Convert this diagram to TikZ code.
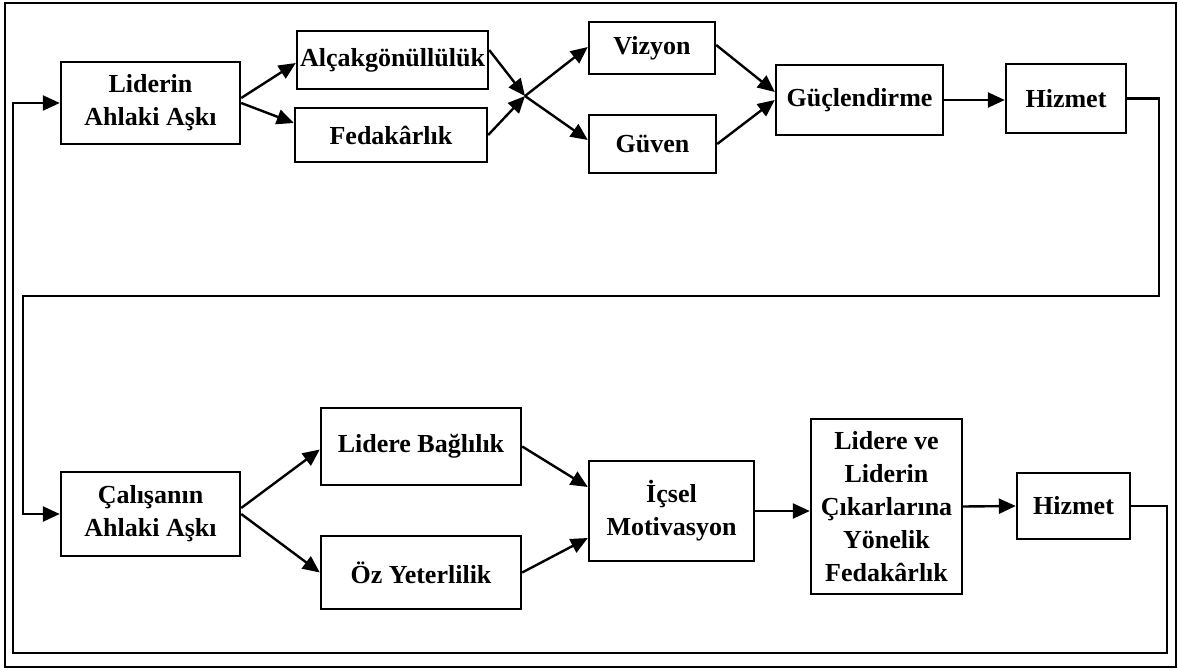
\documentclass[tikz,border=0pt]{standalone}
\usepackage{fontspec}
\setmainfont{Liberation Serif}
\usetikzlibrary{arrows.meta}
\begin{document}
\begin{tikzpicture}[x=1pt,y=-1pt,
  box/.style={draw,line width=2.4pt,inner sep=0pt,align=center,font=\fontsize{26}{33}\selectfont\bfseries},
  conn/.style={line width=2.4pt},
  arr/.style={line width=2.4pt,-{Triangle[length=17pt 0 0,width=15pt 0 0]}}]
\useasboundingbox (0,0) rectangle (1178,669);
\draw[line width=1.8pt] (5,3) rectangle (1176,667);
% top row
\node[box,minimum width=179pt,minimum height=82pt] (L1) at (150.5,103) {Liderin\\Ahlaki Aşkı};
\node[box,minimum width=191pt,minimum height=58pt] (A) at (392.5,60) {Alçakgönüllülük};
\node[box,minimum width=192pt,minimum height=54pt] (F) at (391,135) {Fedakârlık};
\node[box,minimum width=126pt,minimum height=52pt] (V) at (652,48) {Vizyon};
\node[box,minimum width=127pt,minimum height=58pt] (G) at (652.5,144) {Güven};
\node[box,minimum width=167pt,minimum height=70pt] (P) at (859.5,100) {Güçlendirme};
\node[box,minimum width=120pt,minimum height=69pt] (H1) at (1066,98.5) {Hizmet};
% bottom row
\node[box,minimum width=179pt,minimum height=84pt] (C) at (150.5,514) {Çalışanın\\Ahlaki Aşkı};
\node[box,minimum width=200pt,minimum height=77pt] (B) at (421,446.5) {Lidere Bağlılık};
\node[box,minimum width=200pt,minimum height=73pt] (O) at (421,572.5) {Öz Yeterlilik};
\node[box,minimum width=165pt,minimum height=100pt] (M) at (671.5,511) {İçsel\\Motivasyon};
\node[box,minimum width=151pt,minimum height=175pt] (S) at (886.5,506.5) {Lidere ve\\Liderin\\Çıkarlarına\\Yönelik\\Fedakârlık};
\node[box,minimum width=113pt,minimum height=66pt] (H2) at (1073.5,506) {Hizmet};
% junction and loop corners
\coordinate (J) at (525,96);
\coordinate (TR) at (1159,296);
\coordinate (TL) at (23,296);
\coordinate (BR) at (1167,653);
\coordinate (BL) at (13,653);
% top connectors
\draw[arr] ([yshift=5pt]L1.east) -- ([yshift=-3pt]A.west);
\draw[arr] (L1.east) -- ([yshift=12pt]F.west);
\draw[arr] ([yshift=10pt]A.east) -- (J);
\draw[arr] (F.east) -- (J);
\draw[arr] (J) -- ([yshift=1pt]V.west);
\draw[arr] (J) -- ([yshift=4pt]G.west);
\draw[arr] ([yshift=3pt]V.east) -- ([yshift=8pt]P.west);
\draw[arr] (G.east) -- (P.west);
\draw[arr] (P.east) -- (P.east -| H1.west);
% bottom connectors
\draw[arr] ([yshift=6pt]C.east) -- ([yshift=-3pt]B.west);
\draw[arr] (C.east) -- (O.west);
\draw[arr] (B.east) -- ([yshift=24pt]M.west);
\draw[arr] (O.east) -- ([yshift=-27pt]M.west);
\draw[arr] (M.east) -- (M.east -| S.west);
\draw[arr] (S.east) -- (H2.west);
% feedback loops
\draw[arr] (H1.east) -| (TR) -- (TL) |- (C.west);
\draw[arr] (H2.east) -| (BR) -- (BL) |- (L1.west);
\end{tikzpicture}
\end{document}
